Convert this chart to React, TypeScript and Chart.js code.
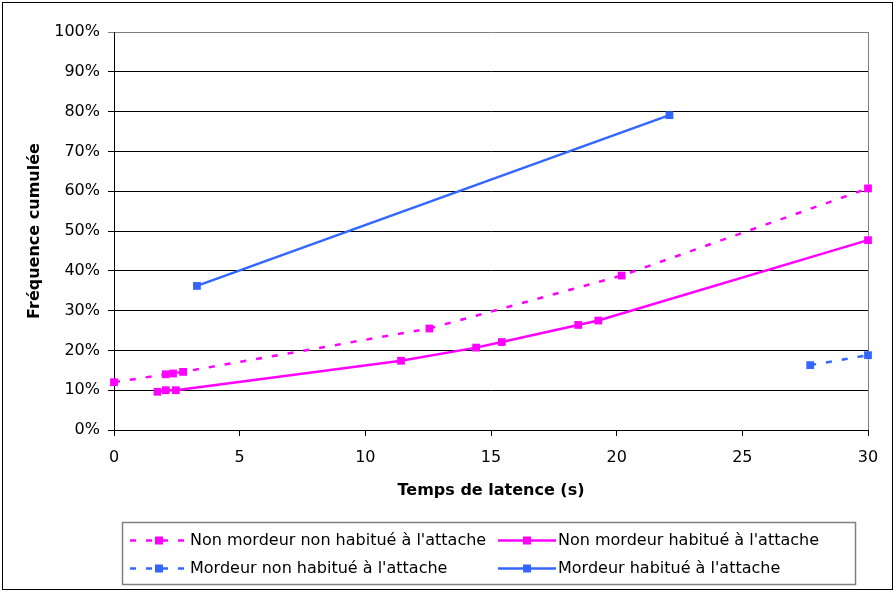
import React, { useEffect, useRef } from 'react';
import { Chart, registerables } from 'chart.js';

Chart.register(...registerables);

// ---- Data ----
const seriesLabels = [
  "Non mordeur non habitué à l'attache",
  "Non mordeur habitué à l'attache",
  "Mordeur non habitué à l'attache",
  "Mordeur habitué à l'attache",
];

// Temps de latence (s) / Fréquence cumulée (%)
const nonMordeurNonHabitueX = [0, 2.06, 2.35, 2.75, 12.55, 20.2, 30];
const nonMordeurNonHabitueY = [12.0, 14.0, 14.2, 14.6, 25.5, 38.8, 60.7];

const nonMordeurHabitueX = [1.73, 2.06, 2.46, 11.42, 14.41, 15.43, 18.47, 19.27, 30];
const nonMordeurHabitueY = [9.6, 10.0, 10.0, 17.4, 20.7, 22.1, 26.4, 27.5, 47.7];

const mordeurNonHabitueX = [27.7, 30];
const mordeurNonHabitueY = [16.3, 18.8];

const mordeurHabitueX = [3.3, 22.1];
const mordeurHabitueY = [36.2, 79.1];

const xAxisTitle = 'Temps de latence (s)';
const yAxisTitle = 'Fréquence cumulée';

const PINK = '#FF00FF';
const BLUE = '#3366FF';
const DASH = [6, 10];
const FONT = 'DejaVu Sans';

const toPoints = (xs: number[], ys: number[]) => xs.map((x, i) => ({ x, y: ys[i] }));

const framePlugin = {
  id: 'frame',
  beforeDraw(chart: any) {
    const ctx = chart.ctx;
    ctx.save();
    ctx.fillStyle = '#fff';
    ctx.fillRect(0, 0, chart.width, chart.height);
    ctx.strokeStyle = '#000';
    ctx.lineWidth = 1;
    ctx.strokeRect(2.5, 2.5, 890, 587);
    ctx.restore();
  },
  beforeDatasetsDraw(chart: any) {
    const { ctx, chartArea } = chart;
    ctx.save();
    ctx.strokeStyle = '#808080';
    ctx.lineWidth = 1;
    ctx.beginPath();
    const xr = Math.round(chartArea.right) + 0.5;
    ctx.moveTo(xr, chartArea.top);
    ctx.lineTo(xr, chartArea.bottom);
    ctx.stroke();
    ctx.restore();
  },
};

const legendPlugin = {
  id: 'customLegend',
  afterDraw(chart: any) {
    const ctx = chart.ctx;
    ctx.save();
    // legend box
    ctx.strokeStyle = '#808080';
    ctx.lineWidth = 1.5;
    ctx.strokeRect(122.5, 522.5, 733, 62);
    const cols = [130, 498];
    const rows = [540, 568];
    chart.data.datasets.forEach((ds: any, i: number) => {
      const sx = cols[i % 2];
      const sy = rows[Math.floor(i / 2)];
      ctx.strokeStyle = ds.borderColor;
      ctx.lineWidth = ds.borderWidth;
      ctx.setLineDash(ds.borderDash || []);
      ctx.beginPath();
      ctx.moveTo(sx, sy + 0.5);
      ctx.lineTo(sx + 58, sy + 0.5);
      ctx.stroke();
      ctx.setLineDash([]);
      ctx.fillStyle = ds.pointBackgroundColor;
      ctx.fillRect(sx + 29 - 4, sy + 0.5 - 4, 8, 8);
      ctx.fillStyle = '#000';
      ctx.font = `16px "${FONT}"`;
      ctx.textBaseline = 'middle';
      ctx.textAlign = 'left';
      ctx.fillText(ds.label, sx + 60, sy + 1);
    });
    ctx.restore();
  },
};

export default function App() {
  const canvasRef = useRef<HTMLCanvasElement | null>(null);

  useEffect(() => {
    if (!canvasRef.current) return;
    Chart.defaults.font.family = FONT;
    Chart.defaults.font.size = 16;
    Chart.defaults.color = '#000';

    const mk = (label: string, xs: number[], ys: number[], color: string, dashed: boolean) => ({
      label,
      data: toPoints(xs, ys),
      borderColor: color,
      backgroundColor: color,
      pointBackgroundColor: color,
      pointBorderColor: color,
      pointBorderWidth: 0,
      borderWidth: 2.5,
      borderDash: dashed ? DASH : [],
      pointStyle: 'rect',
      pointRadius: 5.5,
      pointHoverRadius: 5.5,
      showLine: true,
      tension: 0,
      clip: false,
      fill: false,
    });

    const chart = new Chart(canvasRef.current, {
      type: 'scatter',
      data: {
        datasets: [
          mk(seriesLabels[0], nonMordeurNonHabitueX, nonMordeurNonHabitueY, PINK, true),
          mk(seriesLabels[1], nonMordeurHabitueX, nonMordeurHabitueY, PINK, false),
          mk(seriesLabels[2], mordeurNonHabitueX, mordeurNonHabitueY, BLUE, true),
          mk(seriesLabels[3], mordeurHabitueX, mordeurHabitueY, BLUE, false),
        ] as any,
      },
      options: {
        responsive: false,
        animation: false,
        events: [],
        layout: { padding: { left: 0, top: 32, right: 26, bottom: 92 } },
        plugins: {
          legend: { display: false },
          tooltip: { enabled: false },
        },
        scales: {
          x: {
            type: 'linear',
            min: 0,
            max: 30,
            ticks: { stepSize: 5, padding: 12, color: '#000', font: { size: 16, family: FONT } },
            grid: { drawOnChartArea: false, drawTicks: true, tickLength: 6, tickColor: '#000', color: '#000' },
            border: { display: true, color: '#000', width: 1 },
            title: {
              display: true,
              text: xAxisTitle,
              color: '#000',
              font: { size: 16, weight: 'bold', family: FONT },
              padding: { top: 0, bottom: 0 },
            },
            afterFit: (scale: any) => { scale.height = 70; },
          },
          y: {
            type: 'linear',
            min: 0,
            max: 100,
            ticks: {
              stepSize: 10,
              padding: 8,
              color: '#000',
              font: { size: 16, family: FONT },
              callback: (v: any) => `${v}%`,
            },
            grid: {
              color: (c: any) => (c.tick && c.tick.value === 100 ? '#808080' : '#000'),
              tickColor: (c: any) => (c.tick && c.tick.value === 100 ? '#808080' : '#000'),
              tickLength: 6,
              lineWidth: 1,
            },
            border: { display: true, color: '#000', width: 1 },
            title: {
              display: true,
              text: yAxisTitle,
              color: '#000',
              font: { size: 16, weight: 'bold', family: FONT },
              padding: { top: 25, bottom: 0 },
            },
            afterFit: (scale: any) => { scale.width = 114; },
          },
        },
      } as any,
      plugins: [framePlugin, legendPlugin],
    });
    return () => chart.destroy();
  }, []);

  return (
    <div style={{ position: 'absolute', left: 0, top: 0, width: 894, height: 592 }}>
      <canvas ref={canvasRef} width={894} height={592} style={{ width: 894, height: 592, display: 'block' }} />
    </div>
  );
}
